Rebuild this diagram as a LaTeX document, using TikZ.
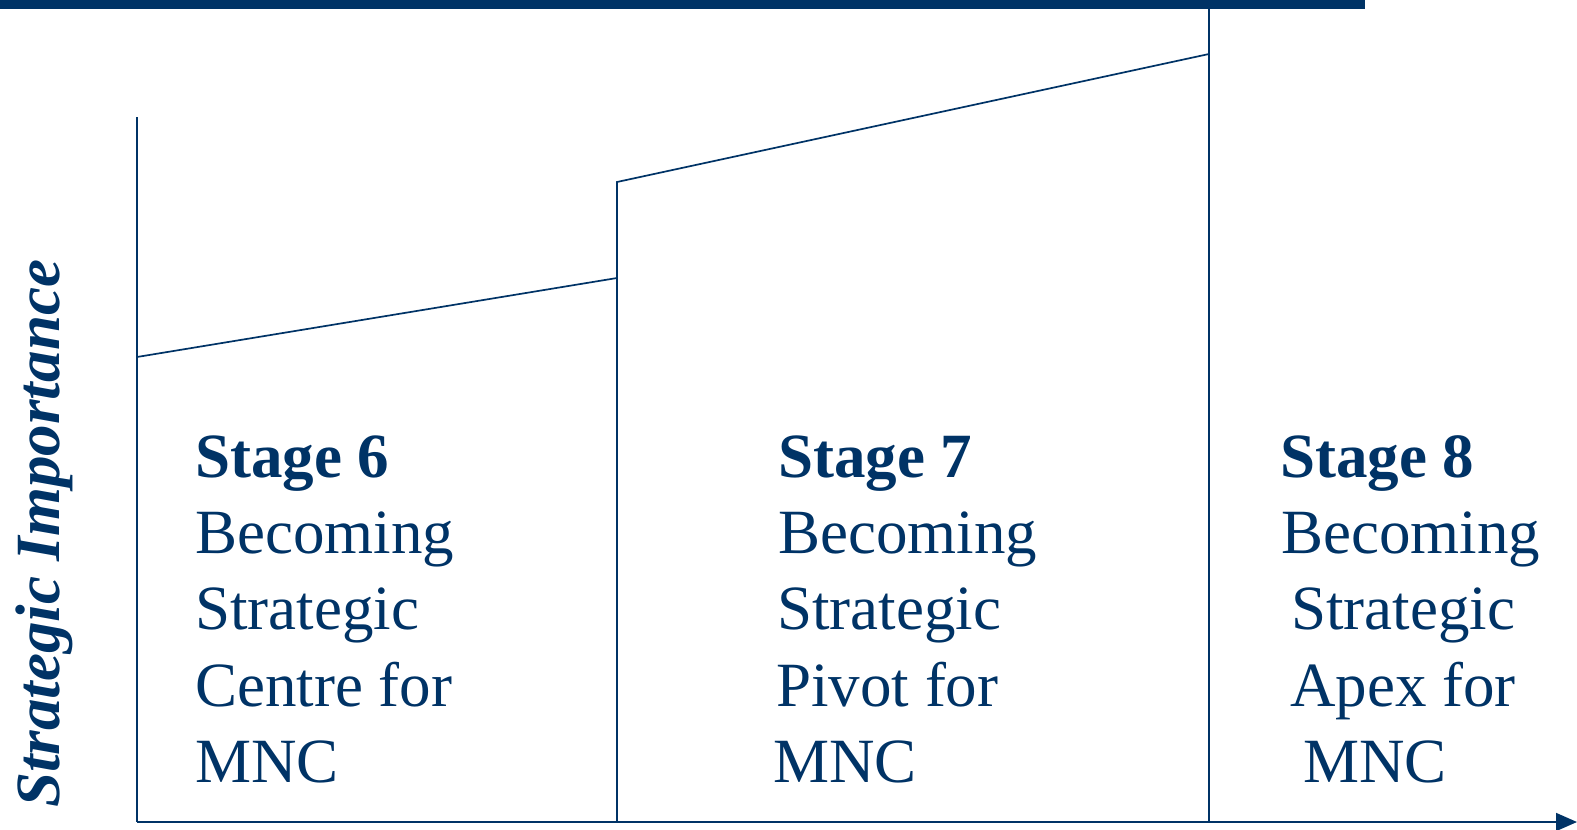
\documentclass[tikz,border=0pt]{standalone}
\usepackage{fontspec}
\setmainfont{Liberation Serif}
\usepackage{xcolor}
\usetikzlibrary{arrows.meta}
\definecolor{navy}{RGB}{0,51,102}

\begin{document}
\begin{tikzpicture}[x=1pt,y=-1pt,
	txt/.style={anchor=base west,inner sep=0pt,text=navy,font=\fontsize{63}{76}\selectfont},
	edge/.style={draw=navy,line width=1.7pt}]
	\useasboundingbox (0,0) rectangle (1577,830);
	\fill[navy] (0,0) rectangle (1365,9);

	\coordinate (o) at (137,822);
	\coordinate (e) at (1577,822);
	\draw[edge] (137,117) -- (o);
	\draw[edge,-{Triangle[length=21pt,width=18pt]}] (o) -- (e);

	\draw[edge] (137,357) -- (617,278);
	\draw[edge] (617,822) -- (617,182) -- (1209,54);
	\draw[edge] (1209,9) -- (1209,822);

	\node[txt,rotate=90] (yl) at (59,808) {\textbf{\textit{Strategic Importance}}};

	\node[txt] (s6a) at (195,477) {\textbf{Stage 6}};
	\node[txt] (s6b) at (195,553) {Becoming};
	\node[txt] (s6c) at (195,629) {Strategic};
	\node[txt] (s6d) at (195,706) {Centre for};
	\node[txt] (s6e) at (195,782) {MNC};

	\node[txt] (s7a) at (778,477) {\textbf{Stage 7}};
	\node[txt] (s7b) at (778,553) {Becoming};
	\node[txt] (s7c) at (777,629) {Strategic};
	\node[txt] (s7d) at (776,706) {Pivot for};
	\node[txt] (s7e) at (773,782) {MNC};

	\node[txt] (s8a) at (1280,477) {\textbf{Stage 8}};
	\node[txt] (s8b) at (1281,553) {Becoming};
	\node[txt] (s8c) at (1291,629) {Strategic};
	\node[txt] (s8d) at (1290,706) {Apex for};
	\node[txt] (s8e) at (1303,782) {MNC};
\end{tikzpicture}
\end{document}
